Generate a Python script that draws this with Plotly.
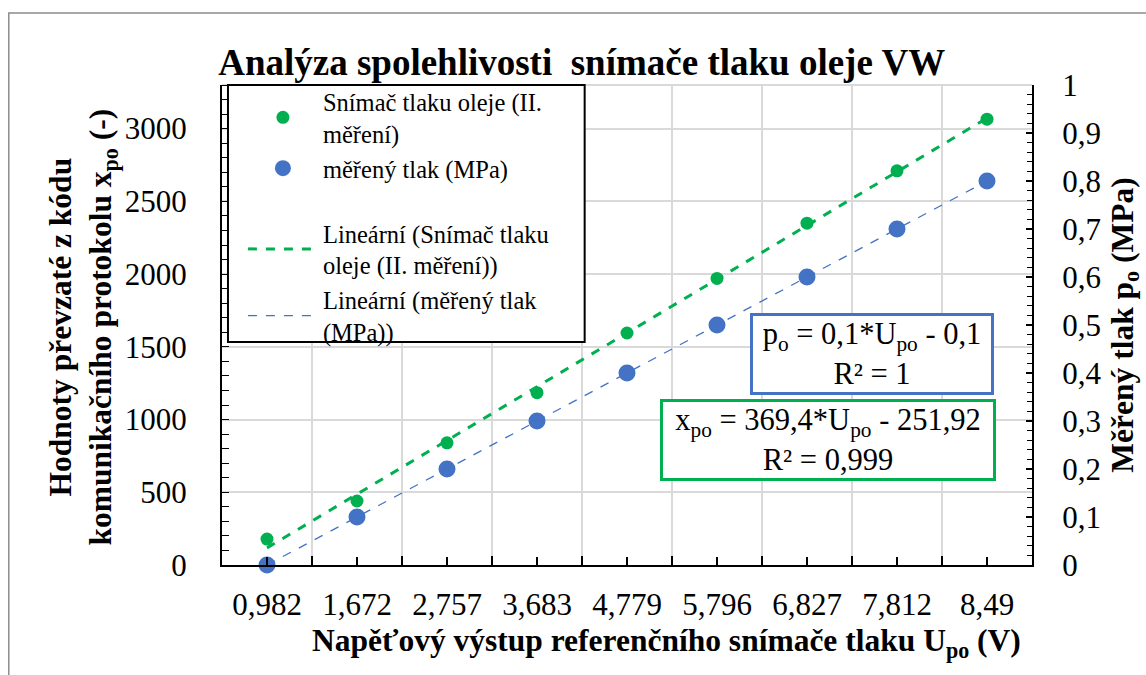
import plotly.graph_objects as go

# Category labels: reference sensor voltage U_po (V)
u_labels = ["0,982", "1,672", "2,757", "3,683", "4,779", "5,796", "6,827", "7,812", "8,49"]
u_pos = [1, 2, 3, 4, 5, 6, 7, 8, 9]

# Values read from the communication protocol (left axis)
x_po = [178, 440, 840, 1185, 1595, 1970, 2350, 2710, 3065]
# Measured pressure in MPa (right axis)
p_o = [0.0, 0.1, 0.2, 0.3, 0.4, 0.5, 0.6, 0.7, 0.8]

# Linear trend coefficients (slope, intercept) as printed in the boxes
fit_x = (369.4, -251.92)
fit_p = (0.1, -0.1)

FONT = "Liberation Serif"
GREEN = "#00B050"
BLUE = "#4472C4"
GRID = "#d9d9d9"

# plot area in pixels
L, R, T, B = 222, 1035, 85, 565
W, H = 1146, 675


def px_x(px):
    return (px - L) / (R - L)


def px_y(py):
    return (B - py) / (B - T)


fig = go.Figure()

fig.add_trace(go.Scatter(
    x=u_pos, y=x_po, mode="markers", name="Snímač tlaku oleje (II.<br>měření)",
    marker=dict(color=GREEN, size=13), cliponaxis=False,
    legendgroup="data", yaxis="y"))
fig.add_trace(go.Scatter(
    x=u_pos, y=p_o, mode="markers", name="měřený tlak (MPa)",
    marker=dict(color=BLUE, size=17), cliponaxis=False,
    legendgroup="data", yaxis="y2"))

ends = [u_pos[0], u_pos[-1]]
fig.add_trace(go.Scatter(
    x=ends, y=[fit_x[0] * u + fit_x[1] for u in ends], mode="lines",
    name="Lineární (Snímač tlaku<br>oleje (II. měření))",
    line=dict(color=GREEN, width=3, dash="dash"),
    legendgroup="trend", yaxis="y"))
fig.add_trace(go.Scatter(
    x=ends, y=[fit_p[0] * u + fit_p[1] for u in ends], mode="lines",
    name="Lineární (měřený tlak<br>(MPa))",
    line=dict(color=BLUE, width=1.3, dash="dash"),
    legendgroup="trend", yaxis="y2"))

tick_font = dict(family=FONT, size=31, color="black")
title_font = dict(family=FONT, size=31.5, color="black", weight="bold")

fig.update_layout(
    width=W, height=H,
    margin=dict(l=L, r=W - R, t=T, b=H - B),
    paper_bgcolor="white", plot_bgcolor="white",
    separators=", ",
    font=dict(family=FONT, color="black"),
    title=dict(text="Analýza spolehlivosti\u00a0 snímače tlaku oleje VW",
               font=dict(family=FONT, size=37, color="black", weight="bold"),
               x=px_x(583), xref="paper", xanchor="center",
               y=1 - 62 / H, yref="container", yanchor="middle"),
    xaxis=dict(
        range=[0.5, 9.5], tickvals=u_pos, ticktext=u_labels,
        tickfont=tick_font, ticks="inside", ticklen=8, tickcolor="black", tickwidth=1.5,
        ticklabelstandoff=11,
        showgrid=False, zeroline=False,
        showline=True, linecolor="black", linewidth=2,
        minor=dict(tick0=0.5, dtick=1, ticks="inside", ticklen=9, tickcolor="black",
                   tickwidth=1.5, showgrid=True, gridcolor=GRID, gridwidth=1.5),
    ),
    yaxis=dict(
        range=[0, 3300], dtick=500, tickfont=tick_font,
        # major ticks are spacers only; the visible ticks are the inside minor ones
        ticks="outside", ticklen=27, tickcolor="rgba(0,0,0,0)",
        showgrid=True, gridcolor=GRID, gridwidth=1.5, zeroline=False,
        showline=True, linecolor="black", linewidth=2,
        minor=dict(dtick=100, ticks="inside", ticklen=7, tickcolor="black", tickwidth=1.2),
    ),
    yaxis2=dict(
        range=[0, 1], dtick=0.1, overlaying="y", side="right", tickfont=tick_font,
        ticks="inside", ticklen=6, tickcolor="black", tickwidth=1.5,
        ticklabelstandoff=22,
        showgrid=False, zeroline=False,
        showline=True, linecolor="black", linewidth=2,
        minor=dict(dtick=0.02, ticks="inside", ticklen=5, tickcolor="black", tickwidth=1.2),
        title=dict(text="Měřený tlak p<sub>o</sub> (MPa)", font=title_font, standoff=10),
    ),
    legend=dict(
        x=px_x(243), y=px_y(79), xanchor="left", yanchor="top",
        bgcolor="rgba(0,0,0,0)", borderwidth=0,
        font=dict(family=FONT, size=24.5, color="black"),
        itemwidth=70, tracegroupgap=30, traceorder="grouped",
    ),
    showlegend=True,
)

# chart frame, plot top edge and legend frame
fig.add_shape(type="rect", xref="paper", yref="paper",
              x0=px_x(8), x1=px_x(1300), y0=px_y(800), y1=px_y(13),
              line=dict(color="#8c8c8c", width=1.5), fillcolor="rgba(0,0,0,0)", layer="below")
fig.add_shape(type="line", xref="paper", yref="paper", x0=0, x1=1, y0=1, y1=1,
              line=dict(color=GRID, width=2), layer="below")
fig.add_shape(type="rect", xref="paper", yref="paper",
              x0=px_x(228), x1=px_x(586), y0=px_y(342), y1=px_y(85),
              line=dict(color="black", width=2), fillcolor="white", layer="above")

# left axis title
fig.add_annotation(text="Hodnoty převzaté z kódu<br>komunikačního protokolu x<sub>po</sub> (-)",
                   xref="paper", yref="paper", x=px_x(82), y=px_y(327),
                   xanchor="center", yanchor="middle", showarrow=False, textangle=-90,
                   font=title_font)

# x axis title
fig.add_annotation(text="Napěťový výstup referenčního snímače tlaku U<sub>po</sub> (V)",
                   xref="paper", yref="paper", x=px_x(668), y=px_y(643),
                   xanchor="center", yanchor="middle", showarrow=False,
                   font=title_font)

# trend equation boxes
eq_font = dict(family=FONT, size=30.5, color="black")
fig.add_annotation(text="p<sub>o</sub> = 0,1*U<sub>po</sub> - 0,1<br>R² = 1",
                   xref="paper", yref="paper", x=px_x(874.5), y=px_y(353.5),
                   xanchor="center", yanchor="middle", showarrow=False,
                   width=234, height=72, borderpad=2,
                   bordercolor=BLUE, borderwidth=3, bgcolor="white",
                   font=eq_font)
fig.add_annotation(text="x<sub>po</sub> = 369,4*U<sub>po</sub> - 251,92<br>R² = 0,999",
                   xref="paper", yref="paper", x=px_x(830), y=px_y(440),
                   xanchor="center", yanchor="middle", showarrow=False,
                   width=326, height=72, borderpad=2,
                   bordercolor=GREEN, borderwidth=3, bgcolor="white",
                   font=eq_font)

fig.write_html("out.html")
